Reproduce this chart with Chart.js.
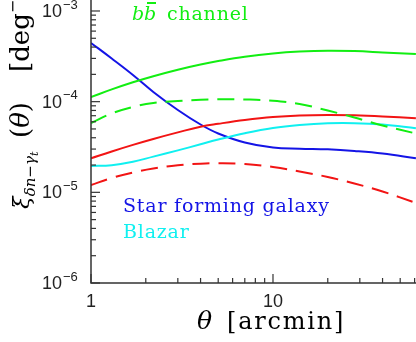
<!DOCTYPE html>
<html>
<head>
<meta charset="utf-8">
<script src="https://cdn.jsdelivr.net/npm/chart.js@4/dist/chart.umd.min.js"></script>
<style>
  html, body { margin: 0; padding: 0; background: #fff; }
  canvas { display: block; }
</style>
</head>
<body>
<canvas id="xiChart" width="416" height="342"></canvas>
<script>
// theta grid in arcmin
const theta = [1, 1.3, 1.7, 2.2, 3, 4, 5, 7, 10, 14, 20, 28, 40, 61];

// b bbar channel, solid / dashed
const greenSolid = [1.125e-4, 1.365e-4, 1.636e-4, 1.909e-4, 2.252e-4, 2.57e-4, 2.802e-4, 3.126e-4, 3.398e-4, 3.567e-4, 3.648e-4, 3.612e-4, 3.495e-4, 3.354e-4];
const greenDash  = [5.82e-5, 7.41e-5, 8.74e-5, 9.67e-5, 1.017e-4, 1.051e-4, 1.062e-4, 1.057e-4, 1.025e-4, 9.43e-5, 7.99e-5, 6.69e-5, 5.46e-5, 4.46e-5];
const redSolid   = [2.373e-5, 2.821e-5, 3.336e-5, 3.876e-5, 4.581e-5, 5.296e-5, 5.701e-5, 6.277e-5, 6.775e-5, 7.056e-5, 7.146e-5, 7.075e-5, 6.879e-5, 6.571e-5];
const redDash    = [1.205e-5, 1.439e-5, 1.655e-5, 1.832e-5, 1.987e-5, 2.07e-5, 2.091e-5, 2.054e-5, 1.903e-5, 1.697e-5, 1.476e-5, 1.251e-5, 1.021e-5, 7.63e-6];
// star forming galaxy
const blueSFG    = [4.44e-4, 2.99e-4, 1.97e-4, 1.28e-4, 8.1e-5, 5.6e-5, 4.46e-5, 3.55e-5, 3.12e-5, 3.03e-5, 2.98e-5, 2.86e-5, 2.68e-5, 2.37e-5];
// blazar
const cyanBlazar = [1.952e-5, 1.992e-5, 2.172e-5, 2.478e-5, 2.901e-5, 3.387e-5, 3.817e-5, 4.478e-5, 5.124e-5, 5.53e-5, 5.774e-5, 5.789e-5, 5.586e-5, 5.085e-5];

const yMajor = [1e-3, 1e-4, 1e-5, 1e-6];
const yMajorExp = ["\u22123", "\u22124", "\u22125", "\u22126"];
const xMajor = [1, 10];
const xMajorLabels = ["1", "10"];

const GREEN = "#12ee12", RED = "#f21414", BLUE = "#1414e6", CYAN = "#10f0f0";

function pts(vals) {
  return theta.map((t, i) => ({ x: t, y: vals[i] }));
}
function line(vals, color, dashed) {
  return {
    data: pts(vals),
    borderColor: color,
    borderWidth: 2,
    borderDash: dashed ? [17, 9] : [],
    pointRadius: 0,
    tension: 0.4,
    fill: false
  };
}

// axes, ticks and labels drawn by hand (inward ticks, TeX-like labels)
const frame = {
  id: "frame",
  afterDraw(chart) {
    const ctx = chart.ctx;
    const xs = chart.scales.x, ys = chart.scales.y;
    const a = chart.chartArea;
    ctx.save();
    ctx.strokeStyle = "#333";
    ctx.lineWidth = 1.5;
    ctx.beginPath();
    ctx.moveTo(a.left, a.top);
    ctx.lineTo(a.left, a.bottom);
    ctx.lineTo(a.right, a.bottom);
    ctx.stroke();

    // y ticks
    ctx.lineWidth = 1.2;
    for (let d = -6; d <= -3; d++) {
      for (let m = 1; m <= 9; m++) {
        const v = m * Math.pow(10, d);
        const py = ys.getPixelForValue(v);
        if (py < a.top) continue;
        ctx.beginPath();
        ctx.moveTo(a.left, py);
        ctx.lineTo(a.left + (m === 1 ? 9 : 5), py);
        ctx.stroke();
      }
    }
    // x ticks
    for (let d = 0; d <= 1; d++) {
      for (let m = 1; m <= 9; m++) {
        const v = m * Math.pow(10, d);
        const px = xs.getPixelForValue(v);
        if (px > a.right) continue;
        ctx.beginPath();
        ctx.moveTo(px, a.bottom);
        ctx.lineTo(px, a.bottom - (m === 1 ? 9 : 5));
        ctx.stroke();
      }
    }

    // tick labels
    ctx.fillStyle = "#222";
    ctx.textBaseline = "middle";
    yMajor.forEach((v, i) => {
      const py = ys.getPixelForValue(v);
      ctx.font = "18px 'Liberation Sans'";
      ctx.textAlign = "right";
      ctx.fillText("10", 62, py + 1);
      ctx.font = "13px 'Liberation Sans'";
      ctx.textAlign = "left";
      ctx.fillText(yMajorExp[i], 63, py - 6);
    });
    ctx.font = "18px 'Liberation Sans'";
    ctx.textAlign = "center";
    ctx.textBaseline = "alphabetic";
    xMajor.forEach((v, i) => {
      ctx.fillText(xMajorLabels[i], xs.getPixelForValue(v), 307);
    });

    // x title
    ctx.fillStyle = "#000";
    ctx.textAlign = "left";
    ctx.font = "italic 25px 'DejaVu Serif'";
    ctx.fillText("\u03b8", 197, 329);
    ctx.font = "24px 'DejaVu Serif'";
    ctx.letterSpacing = "1.8px";
    ctx.fillText("[arcmin]", 227, 329);
    ctx.letterSpacing = "0px";

    // y title (rotated)
    ctx.save();
    ctx.translate(29, 0);
    ctx.rotate(-Math.PI / 2);
    let u = -209;
    const put = (txt, font, v) => {
      ctx.font = font;
      ctx.fillText(txt, u, v);
      u += ctx.measureText(txt).width;
    };
    put("\u03be", "italic 23px 'DejaVu Serif'", 0);
    put("\u03b4n\u2212\u03b3", "italic 15px 'DejaVu Serif'", 6);
    put("t", "italic 11px 'DejaVu Serif'", 9);
    u = -138;
    put("(", "26px 'DejaVu Serif'", 0);
    put("\u03b8", "italic 26px 'DejaVu Serif'", 0);
    put(")", "26px 'DejaVu Serif'", 0);
    u = -72;
    put("[deg", "26px 'DejaVu Serif'", 0);
    put("\u22122", "16px 'DejaVu Serif'", -11);
    put("]", "26px 'DejaVu Serif'", 0);
    ctx.restore();

    // in-plot labels
    ctx.font = "19px 'DejaVu Serif'";
    ctx.letterSpacing = "0.8px";
    ctx.fillStyle = BLUE;
    ctx.fillText("Star forming galaxy", 123, 212);
    ctx.fillStyle = CYAN;
    ctx.fillText("Blazar", 123, 238);
    ctx.fillStyle = GREEN;
    ctx.fillText("channel", 167, 20);
    ctx.letterSpacing = "0px";
    ctx.font = "italic 19px 'DejaVu Serif'";
    ctx.fillText("b", 132, 20);
    ctx.fillText("b", 144, 20);
    ctx.fillRect(147, 2, 9, 2);
    ctx.restore();
  }
};

new Chart(document.getElementById("xiChart"), {
  type: "line",
  data: {
    datasets: [
      line(greenSolid, GREEN, false),
      line(greenDash, GREEN, true),
      line(redSolid, RED, false),
      line(redDash, RED, true),
      line(cyanBlazar, CYAN, false),
      line(blueSFG, BLUE, false)
    ]
  },
  options: {
    responsive: false,
    devicePixelRatio: 1,
    animation: false,
    layout: { padding: { left: 91, right: 0, top: 0, bottom: 59 } },
    plugins: { legend: { display: false }, tooltip: { enabled: false } },
    scales: {
      x: { type: "logarithmic", min: 1, max: 61.07, display: false },
      y: { type: "logarithmic", min: 1e-6, max: 1.322e-3, display: false }
    }
  },
  plugins: [frame]
});
</script>
</body>
</html>
